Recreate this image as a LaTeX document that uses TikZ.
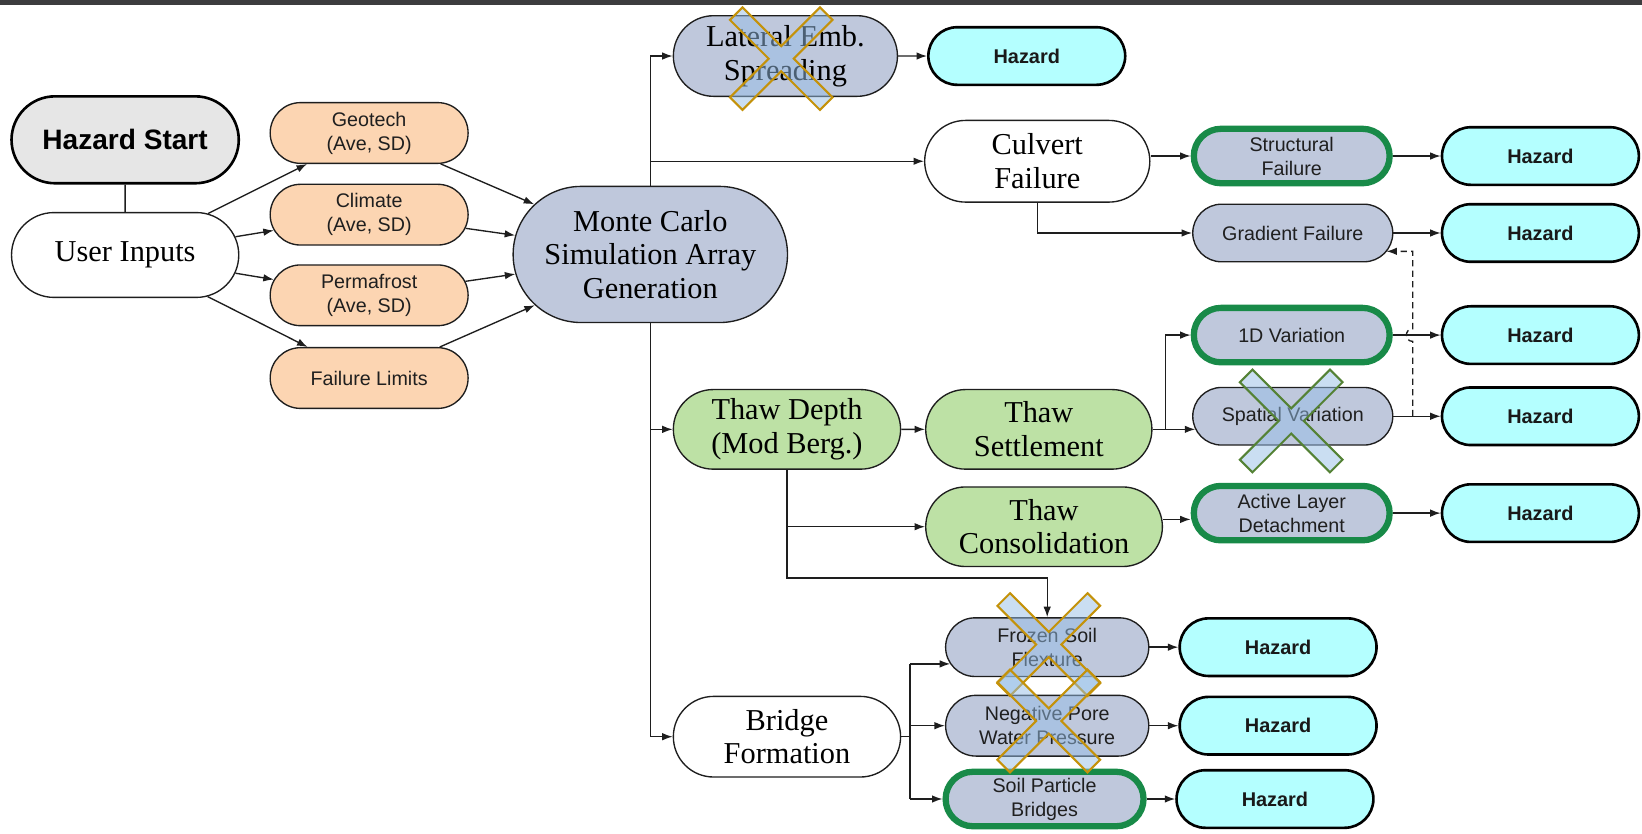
\documentclass[tikz,border=0pt]{standalone}
\usepackage{fontspec}
\setmainfont{Liberation Serif}
\setsansfont{Liberation Sans}
\usetikzlibrary{shapes.misc, arrows.meta, calc}

\definecolor{cPeach}{RGB}{252,213,178}
\definecolor{cBlue}{RGB}{191,200,220}
\definecolor{cGreen}{RGB}{189,225,165}
\definecolor{cCyan}{RGB}{180,255,255}
\definecolor{cStart}{RGB}{230,230,230}
\definecolor{cGreenB}{RGB}{24,138,72}
\definecolor{cGold}{RGB}{196,146,10}
\definecolor{cOlive}{RGB}{84,130,53}
\definecolor{cXfill}{RGB}{150,190,230}
\definecolor{cBar}{RGB}{60,60,62}
\definecolor{cLine}{RGB}{30,30,30}

\newcommand{\fSerif}{\rmfamily\fontsize{14.5pt}{16pt}\selectfont}
\newcommand{\fSans}{\sffamily\fontsize{9.4pt}{11.5pt}\selectfont}
\newcommand{\fHaz}{\sffamily\bfseries\fontsize{9.5pt}{11.5pt}\selectfont}
\newcommand{\fStart}{\sffamily\bfseries\fontsize{13.4pt}{15pt}\selectfont}

\newcommand{\xcrossat}[3]{%
  \begin{scope}[shift={(#1,#2)}]
    \filldraw[draw=#3, line width=1pt, fill=cXfill, fill opacity=0.5]
      (-37,-49) -- (0,-12) -- (37,-49) -- (49,-37) -- (12,0) -- (49,37) --
      (37,49) -- (0,12) -- (-37,49) -- (-49,37) -- (-12,0) -- (-49,-37) -- cycle;
  \end{scope}}

\tikzset{
  base/.style={rounded rectangle, draw=cLine, line width=0.65pt, align=center, inner sep=0pt},
  sz/.style 2 args={minimum width=#1*0.5pt, minimum height=#2*0.5pt},
  serifn/.style={base, font=\fSerif, text=black},
  sansn/.style={base, font=\fSans, text=black!88},
  peachn/.style={sansn, fill=cPeach, sz={189}{58}},
  bluen/.style={sansn, fill=cBlue},
  greenb/.style={draw=cGreenB, line width=3pt},
  hazard/.style={base, fill=cCyan, draw=black, line width=1.25pt, font=\fHaz, text=black!90, sz={188}{55}},
  conn/.style={draw=cLine, line width=0.65pt},
  arr/.style={conn, -{Latex[length=5pt,width=3.6pt]}},
  dsh/.style={conn, dash pattern=on 3pt off 2pt, -{Latex[length=5pt,width=3.6pt]}},
}

\begin{document}
\begin{tikzpicture}[x=0.5pt, y=-0.5pt]
\useasboundingbox (0,0) rectangle (1568,795.5);
\fill[cBar] (0,0) rectangle (1568,5);

% left part
\node[base, fill=cStart, draw=black, line width=1.25pt, font=\fStart, sz={217}{83}] (hs) at (119.5,133.5) {Hazard Start};
\node[serifn, fill=white, sz={217}{81}] (ui) at (119.5,243.5) {User Inputs};
\node[peachn] (geo) at (352.5,127) {Geotech\\(Ave, SD)};
\node[peachn] (cli) at (352.5,205) {Climate\\(Ave, SD)};
\node[peachn] (perm) at (352.5,282) {Permafrost\\(Ave, SD)};
\node[peachn] (fail) at (352.5,361) {Failure Limits};
\node[serifn, fill=cBlue, sz={262}{130}] (mc) at (621,243) {Monte Carlo\\Simulation Array\\Generation};

% top branch
\node[serifn, fill=cBlue, sz={214}{77}] (lat) at (750,53.5) {Lateral Emb.\\Spreading};
\node[hazard] (hzl) at (980.5,53.5) {Hazard};
\node[serifn, fill=white, sz={215}{78}] (cul) at (990.5,154) {Culvert\\Failure};
\node[bluen, greenb, sz={187}{52}] (str) at (1233.5,149) {Structural\\Failure};
\node[hazard] (hzs) at (1471,149) {Hazard};
\node[bluen, sz={191}{55}] (grad) at (1234.5,222.5) {Gradient Failure};
\node[hazard] (hzg) at (1471,222.5) {Hazard};

% thaw branch
\node[serifn, fill=cGreen, sz={217}{76}] (td) at (751.5,410) {Thaw Depth\\(Mod Berg.)};
\node[serifn, fill=cGreen, sz={216}{76}] (ts) at (992,410) {Thaw\\Settlement};
\node[serifn, fill=cGreen, sz={226}{76}] (tc) at (997,503) {Thaw\\Consolidation};
\node[bluen, greenb, sz={187}{52}] (oned) at (1233.5,320) {1D Variation};
\node[hazard] (hz1) at (1471,320) {Hazard};
\node[bluen, sz={191}{55}] (spa) at (1234.5,397.5) {Spatial Variation};
\node[hazard] (hzsp) at (1471,397.5) {Hazard};
\node[bluen, greenb, sz={187}{52}] (ald) at (1233.5,490) {Active Layer\\Detachment};
\node[hazard] (hza) at (1471,490) {Hazard};

% bridge branch
\node[serifn, fill=white, sz={217}{77}] (bf) at (751.5,703.5) {Bridge\\Formation};
\node[bluen, sz={194}{56}] (fsf) at (1000,618) {Frozen Soil\\Flexture};
\node[hazard] (hzf) at (1220.5,618) {Hazard};
\node[bluen, sz={194}{58}] (npw) at (1000,693) {Negative Pore\\Water Pressure};
\node[hazard] (hzn) at (1220.5,693) {Hazard};
\node[bluen, greenb, sz={189}{52}] (spb) at (997.5,763) {Soil Particle\\Bridges};
\node[hazard] (hzb) at (1217.5,763) {Hazard};

% coordinates
\coordinate (y496) at (0,496);
\coordinate (y552) at (0,552);
\coordinate (jts) at (1113,410);
\coordinate (dj) at (1349,397.5);
\coordinate (dup) at (1349,240);
\coordinate (dt) at (1324,240);
\coordinate (hopA) at (1349,326);
\coordinate (hopB) at (1349,314);
\coordinate (bj) at (869,703.5);
\coordinate (b1) at (869,634);
\coordinate (b2) at (869,693);
\coordinate (b3) at (869,763);

% connectors left
\draw[conn] (hs) -- (ui);
\draw[arr] (ui) -- (geo);
\draw[arr] (ui) -- (cli);
\draw[arr] (ui) -- (perm);
\draw[arr] (ui) -- (fail);
\draw[arr] (geo) -- (mc);
\draw[arr] (cli) -- (mc);
\draw[arr] (perm) -- (mc);
\draw[arr] (fail) -- (mc);

% MC branches
\draw[arr] (mc.north) |- (lat.west);
\draw[arr] (mc.north |- cul.west) -- (cul.west);
\draw[arr] (mc.south) |- (bf.west);
\draw[arr] (mc.south |- td.west) -- (td.west);

% top rows
\draw[arr] (lat) -- (hzl);
\draw[arr] (cul.east |- str.west) -- (str.west);
\draw[arr] (cul.south) |- (grad.west);
\draw[arr] (str.east) -- (str.east -| hzs.west);
\draw[arr] (grad.east) -- (grad.east -| hzg.west);

% thaw rows
\draw[arr] (td) -- (ts);
\draw[arr] (ts.east) -- (jts) |- (oned.west);
\draw[arr] (jts) -- ([xshift=1.5pt]jts -| spa.west);
\draw[arr] (oned.east) -- (oned.east -| hz1.west);
\draw[arr] (spa.east) -- (spa.east -| hzsp.west);
\draw[dsh] (dj) -- (hopA) .. controls ([xshift=-4pt]hopA) and ([xshift=-4pt]hopB) .. (hopB) -- (dup) -- (dt);
\draw[arr] (td.south) -- (td.south |- y552) -| (fsf.north);
\draw[arr] (td.south |- tc.west) -- (tc.west);
\draw[arr] (tc.east |- y496) -- (ald.west |- y496);
\draw[arr] (ald.east) -- (ald.east -| hza.west);

% bridge rows
\draw[conn] (bf.east) -- (bj);
\draw[conn] (b1) -- (b3);
\draw[arr] (b1) -- ([xshift=2.5pt]b1 -| fsf.west);
\draw[arr] (b2) -- (b2 -| npw.west);
\draw[arr] (b3) -- (b3 -| spb.west);
\draw[arr] (fsf.east) -- (fsf.east -| hzf.west);
\draw[arr] (npw.east) -- (npw.east -| hzn.west);
\draw[arr] (spb.east) -- (spb.east -| hzb.west);

% crosses
\xcrossat{746}{56}{cGold}
\xcrossat{1233}{402}{cOlive}
\xcrossat{1001.5}{615.5}{cGold}
\xcrossat{1001.5}{688.5}{cGold}
\end{tikzpicture}
\end{document}
